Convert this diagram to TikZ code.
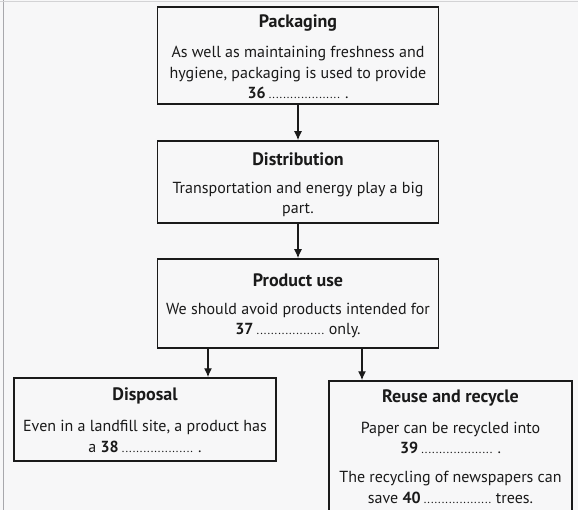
\documentclass[tikz,border=0pt]{standalone}
\usepackage{fontspec}
\setmainfont{PT Sans}
\usetikzlibrary{arrows.meta}
\definecolor{ink}{HTML}{1A1A1A}
\definecolor{paper}{HTML}{F7F7F8}
\definecolor{rule}{HTML}{A8A8AC}
\newcommand{\answerdots}[1]{\,\makebox[#1]{\fontsize{12}{12}\selectfont\leaders\hbox to 3.6pt{\hss.\hss}\hfill}}

\begin{document}
\begin{tikzpicture}[x=1pt,y=-1pt,text=ink,
  stage/.style={draw=ink,line width=1.5pt,inner sep=0pt},
  head/.style={font=\bfseries\fontsize{18}{20}\selectfont},
  body/.style={align=center,font=\fontsize{16}{20.5}\selectfont},
  flow/.style={-{Latex[length=9pt,width=8pt]},draw=ink,line width=1.4pt}]
\useasboundingbox (0,0) rectangle (578,510);
\fill[paper] (0,0) rectangle (578,510);
\clip (0,0) rectangle (578,510);
\draw[rule,line width=1.2pt] (3.5,0)--(3.5,510);
\draw[rule!50,line width=0.8pt] (0,1)--(578,1);
\node[stage,minimum width=281,minimum height=97] (pack) at (298,55.5) {};
\node[stage,minimum width=281,minimum height=82] (dist) at (298,182) {};
\node[stage,minimum width=281,minimum height=89] (use) at (298,303.5) {};
\node[stage,minimum width=262,minimum height=83] (disp) at (145,419.5) {};
\node[stage,minimum width=243,minimum height=150] (reuse) at (450.5,456) {};
\node[head] (packT) at (298,23) {Packaging};
\node[body] (packB) at (298,72.5) {As well as maintaining freshness and\\hygiene, packaging is used to provide\\\textbf{36}\answerdots{74pt}\,.};
\node[head] (distT) at (298,159) {Distribution};
\node[body] (distB) at (298,199.5) {Transportation and energy play a big\\part.};
\node[head] (useT) at (298,280) {Product use};
\node[body] (useB) at (298,320.5) {We should avoid products intended for\\\textbf{37}\answerdots{70pt}\,only.};
\node[head] (dispT) at (145,396) {Disposal};
\node[body] (dispB) at (145,436.5) {Even in a landfill site, a product has\\a \textbf{38}\answerdots{74pt}\,.};
\node[head] (reuseT) at (450.5,398) {Reuse and recycle};
\node[body] (reuseB1) at (450.5,438) {Paper can be recycled into\\\textbf{39}\answerdots{74pt}\,.};
\node[body] (reuseB2) at (450.5,487.5) {The recycling of newspapers can\\save \textbf{40}\answerdots{70pt}\,trees.};
\draw[flow] (pack.south)--(dist.north);
\draw[flow] (dist.south)--(use.north);
\draw[flow] ([xshift=-90]use.south)--([xshift=-90]use.south |- disp.north);
\draw[flow] ([xshift=64]use.south)--([xshift=64]use.south |- reuse.north);
\end{tikzpicture}
\end{document}
